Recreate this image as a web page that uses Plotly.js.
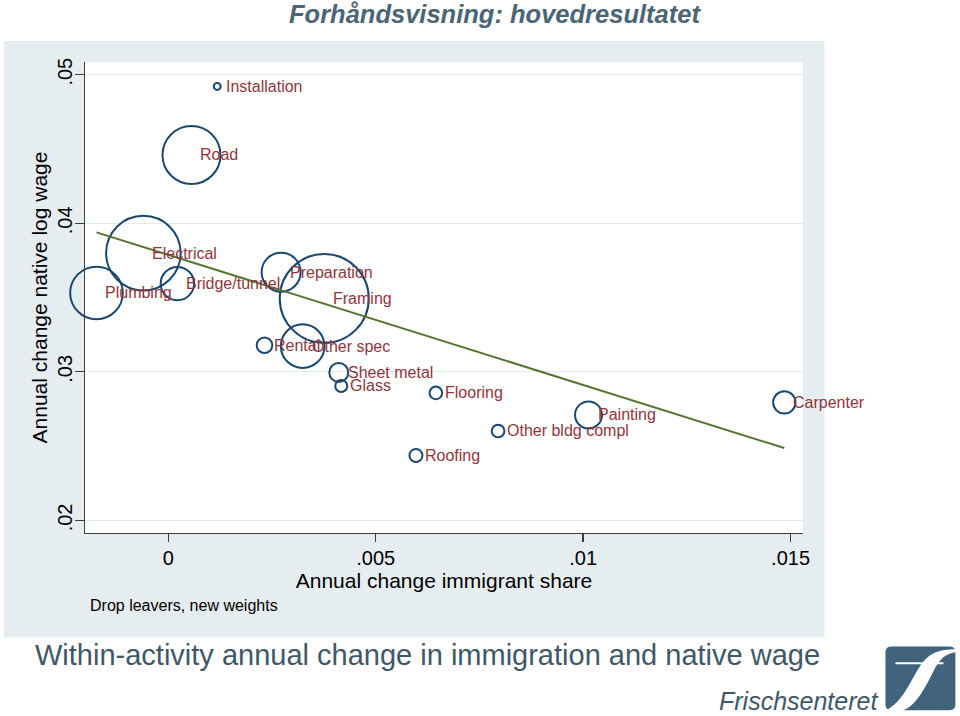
<!DOCTYPE html>
<html>
<head>
<meta charset="utf-8">
<script src="https://cdn.plot.ly/plotly-3.0.1.min.js"></script>
<style>
  html, body { margin: 0; padding: 0; background: #ffffff; }
  #chart { width: 960px; height: 716px; }
</style>
</head>
<body>
<div id="chart"></div>
<script>
// ---- data ----
const activities = ["Installation", "Road", "Electrical", "Plumbing", "Bridge/tunnel", "Preparation",
  "Framing", "Rental", "Other spec", "Sheet metal", "Glass", "Flooring", "Painting",
  "Other bldg compl", "Roofing", "Carpenter"];
const immigrantShareChange = [0.00118, 0.00056, -0.00060, -0.00173, 0.00022, 0.00272,
  0.00376, 0.00232, 0.00324, 0.00411, 0.00417, 0.00645, 0.01013,
  0.00795, 0.00597, 0.01485];
const nativeWageChange = [0.04921, 0.04460, 0.03799, 0.03531, 0.03594, 0.03671,
  0.03494, 0.03179, 0.03173, 0.02996, 0.02905, 0.02858, 0.02710,
  0.02602, 0.02437, 0.02794];
const weights = [0.12, 8.41, 13.9, 6.92, 2.79, 3.80,
  19.8, 0.61, 4.75, 0.90, 0.36, 0.40, 1.82,
  0.40, 0.42, 1.25];
// fitted line endpoints
const fitX = [-0.00173, 0.01485];
const fitY = [0.03939, 0.02487];
// ticks
const xTickVals = [0, 0.005, 0.01, 0.015];
const xTickText = ["0", ".005", ".01", ".015"];
const yTickVals = [0.02, 0.03, 0.04, 0.05];
const yTickText = [".02", ".03", ".04", ".05"];

// ---- layout helpers (pixel -> paper) ----
const W = 960, H = 716;
const PL = 85, PR = 803.5, PT = 62, PB = 533.5;
function px(x) { return (x - PL) / (PR - PL); }
function py(y) { return (PB - y) / (PB - PT); }
function pt(x, y) { return px(x).toFixed(5) + "," + py(y).toFixed(5); }

const FONT = "Liberation Sans, Arial, Helvetica, sans-serif";
const navy = "#1a476f", maroon = "#90353b", green = "#55752f";

const bubbles = {
  type: "scatter", mode: "markers",
  x: immigrantShareChange, y: nativeWageChange,
  text: activities, hoverinfo: "text",
  marker: {
    size: weights, sizemode: "area", sizeref: 0.005,
    color: "rgba(0,0,0,0)", opacity: 1,
    line: { color: navy, width: 2 }
  },
  cliponaxis: false, showlegend: false
};
const fit = {
  type: "scatter", mode: "lines",
  x: fitX, y: fitY,
  line: { color: green, width: 2 },
  hoverinfo: "skip", showlegend: false
};

const annotations = activities.map((name, i) => ({
  x: immigrantShareChange[i], y: nativeWageChange[i], xref: "x", yref: "y",
  text: name, showarrow: false, xanchor: "left", yanchor: "middle", xshift: 7,
  font: { family: FONT, size: 16, color: maroon }
}));

annotations.push(
  { xref: "paper", yref: "paper", x: px(495.5), y: py(14), xanchor: "center", yanchor: "middle",
    text: "<b><i>Forhåndsvisning: hovedresultatet</i></b>", showarrow: false,
    font: { family: FONT, size: 25.5, color: "#4a6576" } },
  { xref: "paper", yref: "paper", x: px(88), y: py(606), xanchor: "left", yanchor: "middle",
    text: "Drop leavers, new weights", showarrow: false,
    font: { family: FONT, size: 16, color: "#000000" } },
  { xref: "paper", yref: "paper", x: px(427.5), y: py(656), xanchor: "center", yanchor: "middle",
    text: "Within-activity annual change in immigration and native wage", showarrow: false,
    font: { family: FONT, size: 29, color: "#3e5869" } },
  { xref: "paper", yref: "paper", x: px(881), y: py(702), xanchor: "right", yanchor: "middle",
    text: "<i>Frischsenteret</i>", showarrow: false,
    font: { family: FONT, size: 25, color: "#3e5869" } }
);

// logo paths
const logoBox = "M " + pt(892, 647) + " L " + pt(950, 647) + " Q " + pt(956, 647) + " " + pt(956, 653) +
  " L " + pt(956, 705) + " Q " + pt(956, 711) + " " + pt(950, 711) +
  " L " + pt(892, 711) + " Q " + pt(886, 711) + " " + pt(886, 705) +
  " L " + pt(886, 653) + " Q " + pt(886, 647) + " " + pt(892, 647) + " Z";
const swoosh = "M " + pt(884, 712) + " C " + pt(906, 704) + " " + pt(914, 672) + " " + pt(926, 660) +
  " C " + pt(934, 652) + " " + pt(944, 650) + " " + pt(957, 650) +
  " L " + pt(957, 653) + " C " + pt(946, 654) + " " + pt(940, 660) + " " + pt(934, 672) +
  " C " + pt(924, 692) + " " + pt(916, 707) + " " + pt(902, 712) + " Z";

const shapes = [
  { type: "rect", xref: "paper", yref: "paper", layer: "below",
    x0: px(4), x1: px(825), y0: py(638), y1: py(41),
    fillcolor: "#e6edf0", line: { width: 0 } },
  { type: "rect", xref: "paper", yref: "paper", layer: "below",
    x0: 0, x1: 1, y0: 0, y1: 1, fillcolor: "#ffffff", line: { width: 0 } },
  { type: "path", xref: "paper", yref: "paper", layer: "above", path: logoBox,
    fillcolor: "#41647c", line: { width: 0 } },
  { type: "path", xref: "paper", yref: "paper", layer: "above", path: swoosh,
    fillcolor: "#ffffff", line: { width: 0 } },
  { type: "line", xref: "paper", yref: "paper", layer: "above",
    x0: px(896), x1: px(944), y0: py(664), y1: py(664),
    line: { color: "#ffffff", width: 2 } }
];

const layout = {
  width: W, height: H,
  margin: { l: PL, r: W - PR, t: PT, b: H - PB, pad: 0 },
  paper_bgcolor: "#ffffff", plot_bgcolor: "#ffffff",
  font: { family: FONT, color: "#000000" },
  showlegend: false,
  xaxis: {
    range: [-0.002007, 0.01530],
    tickmode: "array", tickvals: xTickVals, ticktext: xTickText,
    ticks: "outside", ticklen: 8, tickwidth: 1.3, tickcolor: "#3d3d3d",
    showline: true, linecolor: "#3d3d3d", linewidth: 1.3,
    showgrid: false, zeroline: false,
    tickfont: { family: FONT, size: 20, color: "#000000" },
    ticklabelstandoff: -1,
    title: { text: "Annual change immigrant share", font: { family: FONT, size: 21, color: "#000000" }, standoff: 0 },
    automargin: false
  },
  yaxis: {
    range: [0.019152, 0.050855],
    tickmode: "array", tickvals: yTickVals, ticktext: yTickText,
    tickangle: -90,
    ticks: "outside", ticklen: 9, tickwidth: 1.3, tickcolor: "#3d3d3d",
    showline: true, linecolor: "#3d3d3d", linewidth: 1.3,
    showgrid: true, gridcolor: "#e3eaee", gridwidth: 1.3, zeroline: false,
    tickfont: { family: FONT, size: 20, color: "#000000" },
    ticklabelstandoff: -5,
    title: { text: "Annual change native log wage", font: { family: FONT, size: 21, color: "#000000" }, standoff: 0 },
    automargin: false
  },
  annotations: annotations,
  shapes: shapes
};

Plotly.newPlot("chart", [bubbles, fit], layout, { displayModeBar: false, staticPlot: true });
</script>
</body>
</html>
